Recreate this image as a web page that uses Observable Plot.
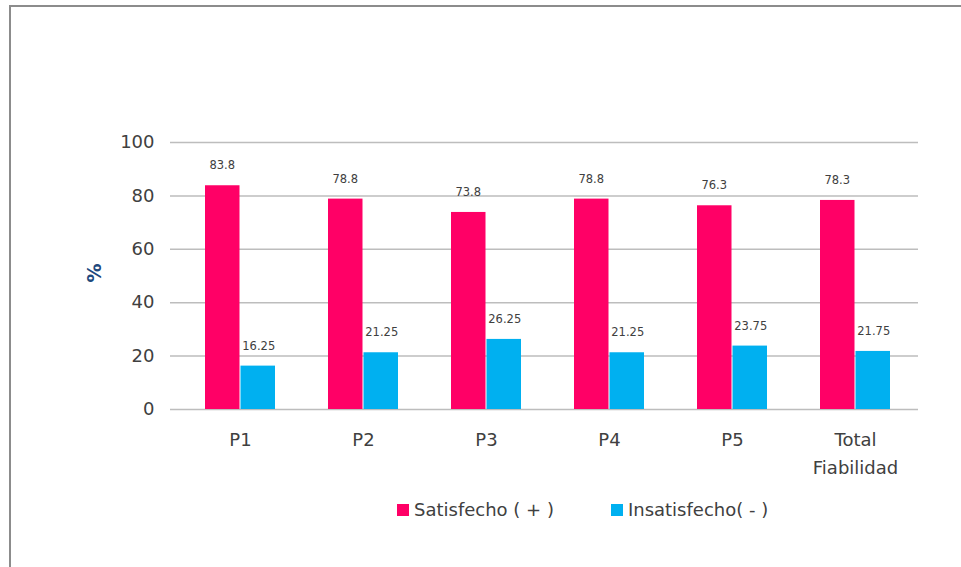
<!DOCTYPE html>
<html>
<head>
<meta charset="utf-8">
<script src="https://cdn.jsdelivr.net/npm/d3@7"></script>
<script src="https://cdn.jsdelivr.net/npm/@observablehq/plot@0.6"></script>
<style>
  html, body { margin: 0; padding: 0; background: #fff; }
  body { width: 961px; height: 567px; position: relative; overflow: hidden; font-family: "DejaVu Sans", sans-serif; }
  #frame { position: absolute; left: 9px; top: 5px; width: 960px; height: 570px; border-top: 2px solid #8c8c8c; border-left: 2px solid #8c8c8c; }
  #chart { position: absolute; left: 0; top: 0; }
  #ylabel { position: absolute; left: 84px; top: 262px; font-size: 19px; font-weight: bold; color: #1F497D; transform: rotate(-90deg); transform-origin: center; }
  #legend { position: absolute; top: 499px; left: 397px; display: flex; align-items: center; font-size: 18px; color: #404040; }
  .sw { display: inline-block; width: 12px; height: 12px; margin-right: 5px; }
  .item { display: flex; align-items: center; margin-right: 57px; }
</style>
</head>
<body>
<div id="frame"></div>
<div id="chart"></div>
<div id="ylabel">%</div>
<div id="legend"></div>
<script>
const categories = ["P1", "P2", "P3", "P4", "P5", "Total Fiabilidad"];
const seriesNames = ["Satisfecho ( + )", "Insatisfecho( - )"];
const satisfecho = [83.8, 78.8, 73.8, 78.8, 76.3, 78.3];
const insatisfecho = [16.25, 21.25, 26.25, 21.25, 23.75, 21.75];
const satLabels = ["83.8", "78.8", "73.8", "78.8", "76.3", "78.3"];
const insLabels = ["16.25", "21.25", "26.25", "21.25", "23.75", "21.75"];
const yTicks = [0, 20, 40, 60, 80, 100];
const colors = ["#FF0066", "#00B0F0"];

const satData = categories.map((c, i) => ({cat: c, value: satisfecho[i], label: satLabels[i]}));
const insData = categories.map((c, i) => ({cat: c, value: insatisfecho[i], label: insLabels[i]}));

const half = 35.5;
const plot = Plot.plot({
  width: 961,
  height: 567,
  marginLeft: 178,
  marginRight: 43,
  marginTop: 142,
  marginBottom: 158,
  style: {fontFamily: "'DejaVu Sans', sans-serif", color: "#404040", background: "transparent"},
  x: {domain: categories, paddingInner: 0.43, paddingOuter: 0.215, label: null},
  y: {domain: [0, 100], label: null},
  marks: [
    Plot.ruleY(yTicks, {stroke: "#bdbdbd", strokeWidth: 1.5, insetLeft: -8}),
    Plot.ruleX([0], {x: () => null, stroke: "#bdbdbd", strokeWidth: 1.5}),
    Plot.axisX({tickSize: 0, tickPadding: 17, fontSize: 18, lineHeight: 1.55, fill: "#404040", label: null,
      tickFormat: d => d.replace(" ", "\n")}),
    Plot.axisY({ticks: yTicks, tickSize: 0, tickPadding: 24, fontSize: 18, fill: "#404040", label: null}),
    Plot.barY(satData, {x: "cat", y: "value", fill: colors[0], insetRight: half}),
    Plot.barY(insData, {x: "cat", y: "value", fill: colors[1], insetLeft: half}),
    Plot.text(satData, {x: "cat", y: "value", text: "label", dx: -half / 2 - 0.5, dy: -20, fontSize: 11.5, fill: "#404040"}),
    Plot.text(insData, {x: "cat", y: "value", text: "label", dx: half / 2 + 0.5, dy: -20, fontSize: 11.5, fill: "#404040"})
  ]
});
document.getElementById("chart").appendChild(plot);

const legend = document.getElementById("legend");
seriesNames.forEach((s, i) => {
  const item = document.createElement("div");
  item.className = "item";
  const sw = document.createElement("span");
  sw.className = "sw";
  sw.style.background = colors[i];
  item.appendChild(sw);
  item.appendChild(document.createTextNode(s));
  legend.appendChild(item);
});
</script>
</body>
</html>
